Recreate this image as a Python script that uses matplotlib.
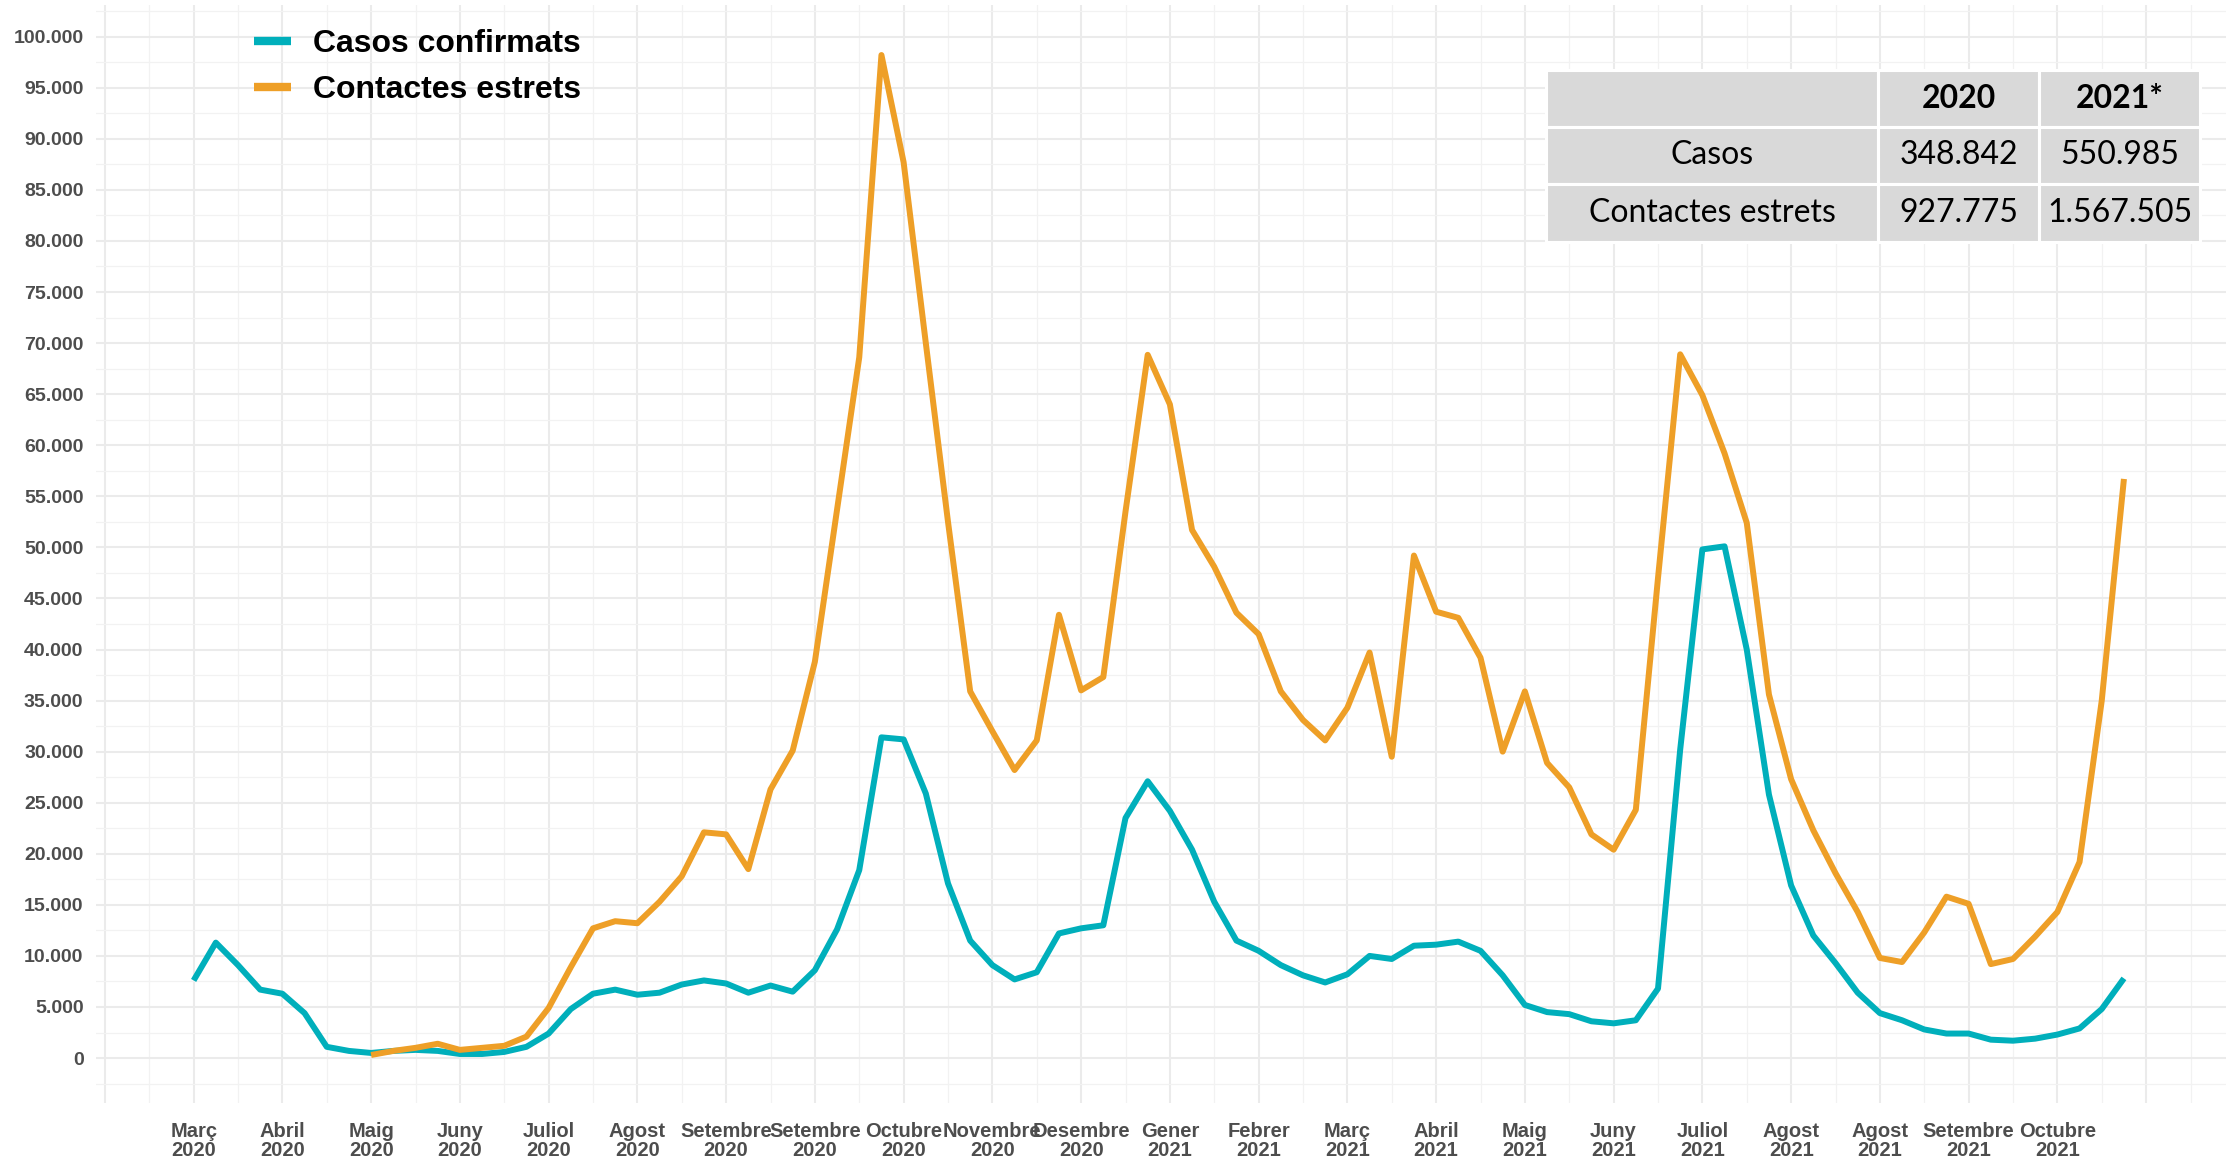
import matplotlib
matplotlib.use("Agg")
import matplotlib.pyplot as plt
from matplotlib.patches import Rectangle
import numpy as np

# ---------------- data ----------------
month_labels = ["Març\n2020", "Abril\n2020", "Maig\n2020", "Juny\n2020", "Juliol\n2020",
                "Agost\n2020", "Setembre\n2020", "Setembre\n2020", "Octubre\n2020",
                "Novembre\n2020", "Desembre\n2020", "Gener\n2021", "Febrer\n2021",
                "Març\n2021", "Abril\n2021", "Maig\n2021", "Juny\n2021", "Juliol\n2021",
                "Agost\n2021", "Agost\n2021", "Setembre\n2021", "Octubre\n2021"]

casos = [7600, 11300, 9100, 6700, 6300, 4400, 1100, 700, 500, 700,
         800, 700, 400, 400, 600, 1100, 2400, 4800, 6300, 6700,
         6200, 6400, 7200, 7600, 7300, 6400, 7100, 6500, 8600, 12600,
         18400, 31400, 31200, 25900, 17100, 11500, 9100, 7700, 8400, 12200,
         12700, 13000, 23500, 27100, 24200, 20400, 15300, 11500, 10500, 9100,
         8100, 7400, 8200, 10000, 9700, 11000, 11100, 11400, 10500, 8100,
         5200, 4500, 4300, 3600, 3400, 3700, 6800, 30200, 49800, 50100,
         40000, 25800, 16900, 12000, 9300, 6400, 4400, 3700, 2800, 2400,
         2400, 1800, 1700, 1900, 2300, 2900, 4800, 7800]

contactes_start_week = 8
contactes = [300, 700, 1000, 1400, 800, 1000, 1200, 2100, 4900, 8900,
             12700, 13400, 13200, 15300, 17800, 22100, 21900, 18500, 26300, 30100,
             38800, 53700, 68600, 98200, 87700, 70000, 52500, 35900, 32000, 28200,
             31100, 43400, 36000, 37300, 53500, 68850, 64000, 51700, 48100, 43600,
             41500, 35900, 33100, 31100, 34300, 39700, 29500, 49200, 43700, 43100,
             39200, 30000, 35900, 28900, 26500, 21900, 20400, 24300, 47000, 68900,
             64900, 59200, 52400, 35600, 27300, 22300, 18100, 14300, 9800, 9400,
             12300, 15800, 15100, 9200, 9700, 11900, 14300, 19200, 35000, 56700]

series_names = ["Casos confirmats", "Contactes estrets"]
series_colors = ["#00AFBB", "#EE9F27"]

table_cols = ["", "2020", "2021*"]
table_rows = ["Casos", "Contactes estrets"]
table_2020 = ["348.842", "927.775"]
table_2021 = ["550.985", "1.567.505"]

# ---------------- figure ----------------
W, H = 2231, 1156
fig = plt.figure(figsize=(W / 100, H / 100), dpi=100)
ax = fig.add_axes([96 / W, 1 - 1103 / H, (2226 - 96) / W, (1103 - 5) / H])

wk_c = np.arange(len(casos))
wk_t = np.arange(contactes_start_week, contactes_start_week + len(contactes))

l1, = ax.plot(wk_c, casos, color=series_colors[0], lw=4.3, solid_joinstyle="round",
              solid_capstyle="butt", zorder=3)
l2, = ax.plot(wk_t, contactes, color=series_colors[1], lw=4.3, solid_joinstyle="round",
              solid_capstyle="butt", zorder=3)

ax.set_xlim(-4.4, 91.6)
ax.set_ylim(-4400, 103100)

major_x = np.arange(-4, 89, 4)
ax.set_xticks(major_x)
ax.set_xticklabels([""] + month_labels + [""])
ax.set_xticks(np.arange(-2, 92, 4), minor=True)
ax.set_yticks(np.arange(0, 100001, 5000))
ax.set_yticklabels(["{:,}".format(v).replace(",", ".") for v in range(0, 100001, 5000)])
ax.set_yticks(np.arange(-2500, 103000, 5000), minor=True)

ax.grid(True, which="major", color="#EBEBEB", lw=1.5, zorder=0)
ax.grid(True, which="minor", color="#F2F2F2", lw=0.9, zorder=0)
ax.set_axisbelow(True)
for s in ax.spines.values():
    s.set_visible(False)
ax.tick_params(which="both", length=0)
ax.tick_params(axis="y", pad=9)
ax.tick_params(axis="x", pad=14)

tick_font = ["Liberation Sans Narrow", "Liberation Sans", "DejaVu Sans"]
for lab in ax.get_yticklabels():
    lab.set_fontfamily(tick_font)
    lab.set_fontweight("bold")
    lab.set_fontsize(14)
    lab.set_color("#4D4D4D")
for lab in ax.get_xticklabels():
    lab.set_fontfamily(tick_font)
    lab.set_fontweight("bold")
    lab.set_fontsize(14.5)
    lab.set_color("#4D4D4D")
    lab.set_linespacing(0.95)

# legend
leg = ax.legend([l1, l2], series_names, loc="upper left",
                bbox_to_anchor=(235 / W, 1 - 10 / H), bbox_transform=fig.transFigure,
                frameon=False, handlelength=1.15, handletextpad=0.7, labelspacing=0.5,
                borderaxespad=0.2,
                prop={"family": ["Liberation Sans", "DejaVu Sans"], "weight": "bold", "size": 23})
for h in leg.get_lines():
    h.set_linewidth(6)

# table (figure pixel coordinates)
col_edges = [1546, 1878, 2039, 2200]
row_edges = [70, 127, 184, 242]
cell_fc = "#D9D9D9"
tfont = ["Lato", "DejaVu Sans"]
cells = [table_cols, [table_rows[0], table_2020[0], table_2021[0]],
         [table_rows[1], table_2020[1], table_2021[1]]]
for r in range(3):
    for c in range(3):
        x0, x1 = col_edges[c], col_edges[c + 1]
        y0, y1 = row_edges[r], row_edges[r + 1]
        fig.patches.append(Rectangle((x0 / W, 1 - y1 / H), (x1 - x0) / W, (y1 - y0) / H,
                                     transform=fig.transFigure, facecolor=cell_fc,
                                     edgecolor="white", lw=2.2, zorder=5))
        txt = cells[r][c]
        if txt:
            fig.text((x0 + x1) / 2 / W, 1 - (y0 + y1) / 2 / H, txt,
                     ha="center", va="center", fontsize=23,
                     fontweight="bold" if r == 0 else "normal",
                     family=tfont, color="black", zorder=6)

fig.savefig("out.png", dpi=100, facecolor="white")
